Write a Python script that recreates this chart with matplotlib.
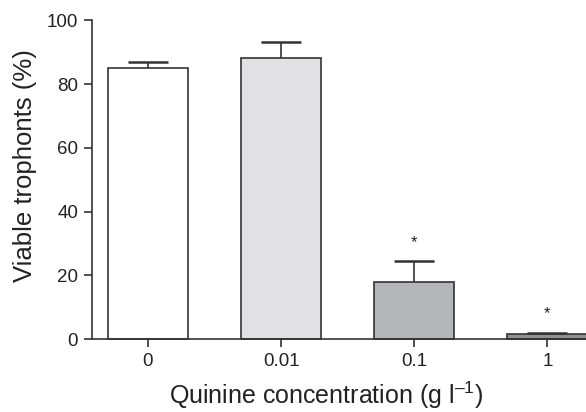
import matplotlib
matplotlib.use("Agg")
import matplotlib.pyplot as plt
import numpy as np

categories = ["0", "0.01", "0.1", "1"]
values = [85.1, 88.1, 18.0, 1.6]
errors = [1.9, 5.0, 6.5, 0.4]
significant = [False, False, True, True]
colors = ["#ffffff", "#e1e1e3", "#b5b6b9", "#8f9094"]

plt.rcParams['font.family'] = ['Liberation Sans', 'DejaVu Sans']
plt.rcParams['mathtext.fontset'] = 'custom'
plt.rcParams['mathtext.rm'] = 'Liberation Sans'
plt.rcParams['mathtext.it'] = 'Liberation Sans'

fig = plt.figure(figsize=(5.86, 4.12), dpi=100)
ax = fig.add_axes([92/586, 1 - 339/412, 1 - 92/586, (339 - 20.5)/412])

x = np.arange(len(categories))
ec = "#333333"
ax.bar(x, values, width=0.6, color=colors, edgecolor=ec, linewidth=1.2, zorder=2, clip_on=False)
tops = np.array(values) + np.array(errors)
ax.vlines(x, values, tops, color=ec, linewidth=1.2, zorder=3)
ax.hlines(tops, x - 0.15, x + 0.15, color=ec, linewidth=1.8, zorder=3, clip_on=False)
for xi, t, s in zip(x, tops, significant):
    if s:
        ax.text(xi, t + 3.5, "*", ha="center", va="bottom", fontsize=12, color="#222222")

ax.set_xlim(-0.42, 3.29)
ax.set_ylim(0, 100)
ax.set_yticks([0, 20, 40, 60, 80, 100])
ax.set_xticks(x)
ax.set_xticklabels(categories)
ax.spines['top'].set_visible(False)
ax.spines['right'].set_visible(False)
for sp in ['left', 'bottom']:
    ax.spines[sp].set_color(ec)
    ax.spines[sp].set_linewidth(1.2)
ax.tick_params(axis='both', direction='out', length=6, width=1.2, color=ec,
               labelsize=13.5, labelcolor="#222222", pad=4)
ax.set_ylabel("Viable trophonts (%)", fontsize=18.5, color="#222222")
ax.yaxis.set_label_coords(-0.111, 0.546)
ax.set_xlabel("Quinine concentration (g l$^{\u2013 1}$)", fontsize=18, color="#222222")
ax.xaxis.set_label_coords(0.474, -0.128)

fig.savefig("out.png", dpi=100)
